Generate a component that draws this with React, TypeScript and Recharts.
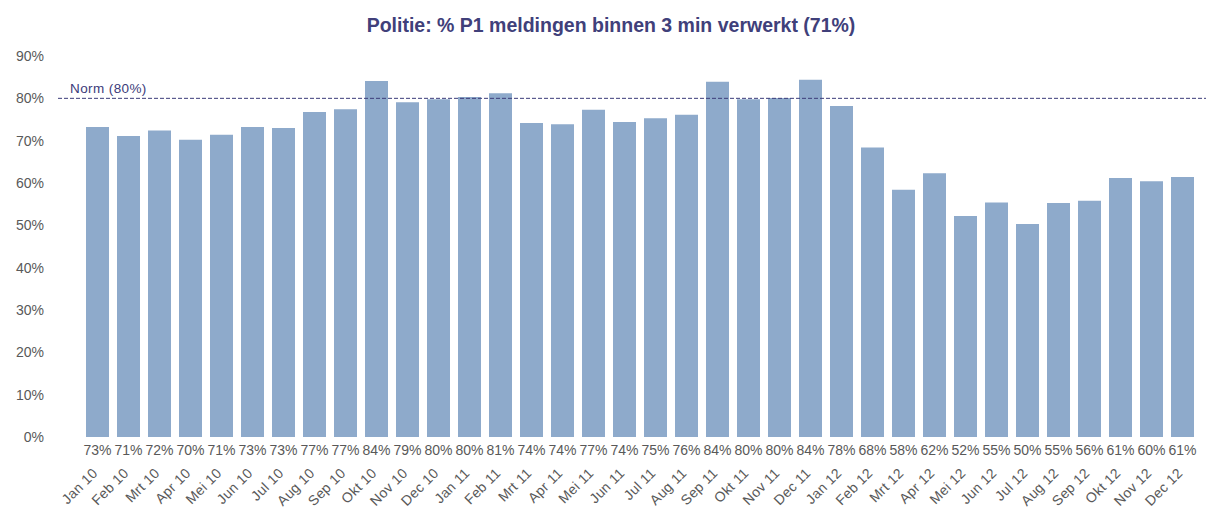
import { BarChart, Bar, XAxis, YAxis, ReferenceLine } from 'recharts';

const months = [
  'Jan 10', 'Feb 10', 'Mrt 10', 'Apr 10', 'Mei 10', 'Jun 10', 'Jul 10', 'Aug 10', 'Sep 10', 'Okt 10', 'Nov 10', 'Dec 10',
  'Jan 11', 'Feb 11', 'Mrt 11', 'Apr 11', 'Mei 11', 'Jun 11', 'Jul 11', 'Aug 11', 'Sep 11', 'Okt 11', 'Nov 11', 'Dec 11',
  'Jan 12', 'Feb 12', 'Mrt 12', 'Apr 12', 'Mei 12', 'Jun 12', 'Jul 12', 'Aug 12', 'Sep 12', 'Okt 12', 'Nov 12', 'Dec 12',
];

// % P1 calls handled within 3 minutes
const pct = [
  73.2, 71.1, 72.4, 70.2, 71.4, 73.2, 73.0, 76.8, 77.4, 84.1, 79.1, 79.8,
  80.3, 81.2, 74.2, 73.9, 77.3, 74.4, 75.3, 76.1, 83.9, 79.8, 80.1, 84.4,
  78.2, 68.4, 58.4, 62.3, 52.2, 55.4, 50.3, 55.3, 55.8, 61.2, 60.4, 61.4,
];

const yTicks = [0, 10, 20, 30, 40, 50, 60, 70, 80, 90];
const norm = 80;

const chartData = months.map((m, i) => ({ month: m, pct: pct[i] }));

const font = '"Liberation Sans", Arial, sans-serif';

function MonthTick(props: any) {
  const { x, y, payload, index } = props;
  const v = pct[index];
  const ex = x + 1;
  const ey = y + 29;
  return (
    <g>
      <text x={x} y={y + 10} textAnchor="middle" fontSize={14} fill="#595959" fontFamily={font}>
        {Math.round(v)}%
      </text>
      <text
        x={ex}
        y={ey}
        textAnchor="end"
        fontSize={14}
        letterSpacing={0.3}
        fill="#595959"
        fontFamily={font}
        transform={`rotate(-45 ${ex} ${ey})`}
      >
        {payload.value}
      </text>
    </g>
  );
}

function NormLabel(props: any) {
  const { viewBox } = props;
  return (
    <text x={viewBox.x + 12} y={viewBox.y - 5} fontSize={13.5} letterSpacing={0.4} fill="#3b3b7a" fontFamily={font}>
      Norm (80%)
    </text>
  );
}

export default function App() {
  return (
    <div style={{ position: 'absolute', left: 0, top: 0, width: 1206, height: 509, background: '#fff' }}>
      <div
        style={{
          position: 'absolute',
          top: 14,
          left: 8,
          width: 1206,
          textAlign: 'center',
          fontFamily: font,
          fontWeight: 'bold',
          fontSize: 19.5,
          lineHeight: '22px',
          color: '#40407a',
        }}
      >
        Politie: % P1 meldingen binnen 3 min verwerkt (71%)
      </div>
      <BarChart
        width={1206}
        height={509}
        data={chartData}
        margin={{ top: 56, right: 0, bottom: 0, left: 0 }}
        barCategoryGap={4}
      >
        <XAxis
          dataKey="month"
          interval={0}
          height={72}
          tickLine={false}
          axisLine={false}
          padding={{ left: 24, right: 8 }}
          tick={<MonthTick />}
        />
        <YAxis
          domain={[0, 90]}
          ticks={yTicks}
          width={58}
          tickLine={false}
          axisLine={false}
          tickMargin={8}
          tickFormatter={(v: number) => `${v}%`}
          tick={{ fontSize: 14, fill: '#595959', fontFamily: font }}
        />
        <Bar dataKey="pct" fill="#8eaacb" isAnimationActive={false} />
        <ReferenceLine y={norm} stroke="#3b3b7a" strokeDasharray="4 2" label={<NormLabel />} />
      </BarChart>
    </div>
  );
}
